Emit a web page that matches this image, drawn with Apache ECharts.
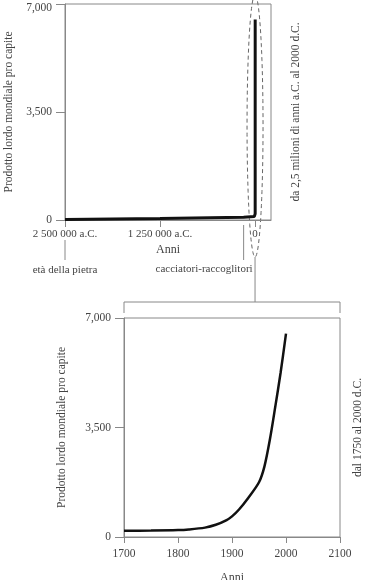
<!DOCTYPE html>
<html><head><meta charset="utf-8">
<script src="https://cdn.jsdelivr.net/npm/echarts@6/dist/echarts.min.js"></script>
<style>html,body{margin:0;padding:0;background:#fff}#c{width:365px;height:580px}</style>
</head><body><div id="c"></div>
<script>
// ---- data ----
const longYears = [-2500000, -1250000, -150000, -10000, 1750, 1950, 2000];
const longGdp   = [20, 45, 90, 110, 200, 1700, 6500];
const modernYears = [1700, 1750, 1800, 1820, 1850, 1870, 1890, 1900, 1913, 1930, 1950, 1960, 1970, 1980, 1990, 2000];
const modernGdp   = [200, 205, 220, 240, 300, 390, 540, 660, 880, 1250, 1750, 2250, 3100, 4150, 5250, 6500];
const eraLabels = ['età della pietra', 'cacciatori-raccoglitori'];
const eraYears  = [-2500000, -150000];
const yTitle = 'Prodotto lordo mondiale pro capite';
const xTitle = 'Anni';
const topRightTitle = 'da 2,5 milioni di anni a.C. al 2000 d.C.';
const bottomRightTitle = 'dal 1750 al 2000 d.C.';

const FONT = 'Liberation Serif';
const TXT = '#444';
const AX = '#888';

function fmtThousands(v){ return v.toLocaleString('en-US'); }
function fmtTopY(v){ return v === 7000 ? '{t|' + fmtThousands(v) + '}' : fmtThousands(v); }
function fmtBC(v){
  if (v === 0) return '0';
  const s = String(Math.abs(v)).replace(/\B(?=(\d{3})+(?!\d))/g, ' ');
  return s + ' a.C.';
}

const chart = echarts.init(document.getElementById('c'));
const axisLine = {show:true, onZero:false, lineStyle:{color:AX, width:1}};
const tick = {show:true, length:9, lineStyle:{color:AX}};
const lbl = {color:TXT, fontFamily:FONT, fontSize:11.5};

chart.setOption({
  animation:false,
  backgroundColor:'#fff',
  grid:[
    {left:65, top:4, width:206, height:216, show:true, borderColor:AX, borderWidth:1, backgroundColor:'transparent', containLabel:false, outerBoundsMode:'none'},
    {left:124, top:318, width:216, height:219, show:true, borderColor:AX, borderWidth:1, backgroundColor:'transparent', containLabel:false, outerBoundsMode:'none'}
  ],
  xAxis:[
    {gridIndex:0, type:'value', min:-2500000, max:210000, interval:1250000,
     axisLine, axisTick:{show:true, length:7, lineStyle:{color:AX}}, splitLine:{show:false},
     axisLabel:{...lbl, fontSize:11, margin:9, showMaxLabel:false, formatter:fmtBC},
     name:xTitle, nameLocation:'middle', nameGap:24, nameTextStyle:{color:TXT, fontFamily:FONT, fontSize:12}},
    {gridIndex:1, type:'value', min:1700, max:2100, interval:100,
     axisLine, axisTick:{show:true, length:6, lineStyle:{color:AX}}, splitLine:{show:false},
     axisLabel:{...lbl, margin:11, formatter:v => String(v)},
     name:xTitle, nameLocation:'middle', nameGap:35, nameTextStyle:{color:TXT, fontFamily:FONT, fontSize:12}}
  ],
  yAxis:[
    {gridIndex:0, type:'value', min:0, max:7000, interval:3500,
     axisLine, axisTick:tick, splitLine:{show:false},
     axisLabel:{...lbl, margin:13, formatter:fmtTopY,
       rich:{t:{color:TXT, fontFamily:FONT, fontSize:11.5, padding:[7,0,0,0]}}},
     name:yTitle, nameLocation:'middle', nameGap:48, nameTextStyle:{color:TXT, fontFamily:FONT, fontSize:11.5}},
    {gridIndex:1, type:'value', min:0, max:7000, interval:3500,
     axisLine, axisTick:tick, splitLine:{show:false},
     axisLabel:{...lbl, margin:13, formatter:fmtThousands},
     name:yTitle, nameLocation:'middle', nameGap:56, nameTextStyle:{color:TXT, fontFamily:FONT, fontSize:11.5}}
  ],
  series:[
    {type:'line', xAxisIndex:0, yAxisIndex:0, symbol:'none', smooth:false,
     lineStyle:{color:'#111', width:3}, data:longYears.map((y,i)=>[y,longGdp[i]])},
    {type:'line', xAxisIndex:1, yAxisIndex:1, symbol:'none', smooth:0.3,
     lineStyle:{color:'#111', width:2.5}, data:modernYears.map((y,i)=>[y,modernGdp[i]])}
  ]
});

// ---- annotations positioned from the axes ----
const g = [];
const zeroPt = chart.convertToPixel({gridIndex:0}, [0, 0]);
const topPt  = chart.convertToPixel({gridIndex:0}, [0, 7000]);
const axisY = zeroPt[1];
const eraX = eraYears.map(y => chart.convertToPixel({gridIndex:0}, [y, 0])[0]);
g.push({type:'line', shape:{x1:eraX[0], y1:axisY+20, x2:eraX[0], y2:axisY+40}, style:{stroke:AX, lineWidth:1}});
g.push({type:'text', x:eraX[0], y:axisY+50, style:{text:eraLabels[0], fill:TXT, font:'11px '+FONT, textAlign:'center', textVerticalAlign:'middle'}});
g.push({type:'line', shape:{x1:eraX[1], y1:axisY+5, x2:eraX[1], y2:axisY+40}, style:{stroke:AX, lineWidth:1}});
g.push({type:'text', x:eraX[1]+9, y:axisY+49, style:{text:eraLabels[1], fill:TXT, font:'11px '+FONT, textAlign:'right', textVerticalAlign:'middle'}});
// dashed spindle around the present
const ellTop = topPt[1] - 9, ellBot = axisY + 37;
const ecx = zeroPt[0], ecy = (ellTop+ellBot)/2, erx = 8, ery = (ellBot-ellTop)/2;
const ellPts = [];
for (let k = 0; k <= 96; k++) { const a = k/96*2*Math.PI; ellPts.push([ecx + erx*Math.sin(a), ecy - ery*Math.cos(a)]); }
g.push({type:'polyline', shape:{points:ellPts}, style:{fill:'none', stroke:'#666', lineWidth:1, lineDash:[4,3]}});
// connector and bracket to lower chart
const b0 = chart.convertToPixel({gridIndex:1}, [1700, 7000]);
const b1 = chart.convertToPixel({gridIndex:1}, [2100, 7000]);
const brY = b0[1] - 16;
g.push({type:'line', shape:{x1:zeroPt[0], y1:ellBot, x2:zeroPt[0], y2:brY}, style:{stroke:AX, lineWidth:1}});
g.push({type:'polyline', shape:{points:[[b0[0], b0[1]-5],[b0[0], brY],[b1[0], brY],[b1[0], b1[1]-5]]}, style:{stroke:AX, fill:'none', lineWidth:1}});
// right-side titles
g.push({type:'text', x:296, y:(topPt[1]+axisY)/2, rotation:Math.PI/2,
  style:{text:topRightTitle, fill:TXT, font:'11.5px '+FONT, textAlign:'center', textVerticalAlign:'middle'}});
const z1 = chart.convertToPixel({gridIndex:1}, [2100, 0]);
g.push({type:'text', x:358, y:(b1[1]+z1[1])/2, rotation:Math.PI/2,
  style:{text:bottomRightTitle, fill:TXT, font:'11.5px '+FONT, textAlign:'center', textVerticalAlign:'middle'}});

chart.setOption({graphic:{elements:g}});
</script>
</body></html>
